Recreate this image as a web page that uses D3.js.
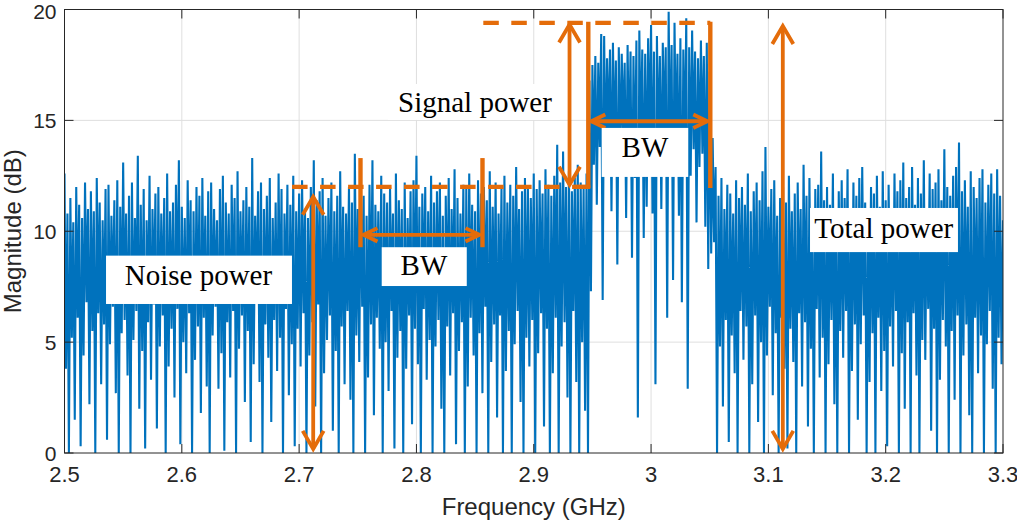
<!DOCTYPE html>
<html><head><meta charset="utf-8">
<script src="https://cdn.jsdelivr.net/npm/d3@7"></script>
<style>body{margin:0;background:#fff;}svg{display:block;}</style>
</head><body>
<svg id="chart" width="1017" height="520"></svg>
<script>
// ---------- data ----------
const xTicks = [2.5, 2.6, 2.7, 2.8, 2.9, 3.0, 3.1, 3.2, 3.3];
const xTickLabels = ["2.5", "2.6", "2.7", "2.8", "2.9", "3", "3.1", "3.2", "3.3"];
const yTicks = [0, 5, 10, 15, 20];
const yTickLabels = ["0", "5", "10", "15", "20"];
const xLabel = "Frequency (GHz)";
const yLabel = "Magnitude (dB)";

// spectrum sampled every 2.5 MHz from 2.5 GHz: per-bin peak and trough (dB)
const freqStart = 2.5, freqStep = 0.0025;
const magHigh = [
12.6,10.8,11.5,10.4,12.0,11.2,10.6,12.2,11.0,11.8,
10.9,12.4,11.3,10.5,11.9,12.1,10.7,11.4,12.3,11.1,
13.1,10.8,11.6,12.2,10.6,13.4,11.2,11.9,10.5,12.5,
11.0,11.7,12.0,10.8,11.5,12.6,10.9,11.3,12.1,13.2,
11.1,10.6,12.3,11.4,10.9,12.0,11.6,12.4,10.7,11.8,
12.2,11.0,10.5,11.9,12.5,11.3,10.8,12.1,11.5,12.7,
10.9,11.4,12.0,11.1,13.3,10.7,11.8,12.2,11.0,11.6,
12.4,10.6,11.3,12.6,11.9,10.8,12.1,11.2,12.5,10.9,
11.7,12.3,11.0,10.6,12.0,13.2,11.4,11.8,12.4,10.7,
11.5,12.2,10.9,11.6,12.7,11.1,10.8,12.0,11.3,13.5,
11.0,12.4,11.6,10.7,12.1,13.2,11.2,10.9,12.5,11.7,
11.3,12.0,10.8,12.6,11.4,11.0,12.2,10.6,11.8,12.3,
13.4,11.1,11.7,12.0,10.9,12.5,11.3,11.8,12.2,10.7,
11.6,12.4,11.0,12.8,11.5,10.8,12.1,11.9,12.6,11.2,
10.9,12.3,11.7,12.0,11.4,12.7,11.1,12.2,10.8,11.9,
12.5,11.3,12.1,11.6,12.9,11.0,11.8,12.4,12.0,11.5,
12.6,11.9,12.3,11.7,12.8,12.1,11.6,12.5,13.9,12.2,
13.6,12.0,12.7,11.8,12.4,13.0,12.2,11.9,12.6,
16.8,17.5,17.9,17.6,18.9,18.8,17.8,18.2,18.5,17.7,
18.3,18.0,17.6,18.4,18.1,17.9,18.6,19.05,18.2,18.0,
18.7,19.3,18.1,18.8,17.9,18.5,18.3,19.9,18.4,19.4,
18.0,18.7,18.2,19.6,18.3,19.05,18.1,17.8,18.6,17.9,
18.5,17.2,
14.2,12.9,11.6,12.4,11.0,12.1,11.7,10.8,12.3,11.5,
12.0,11.2,12.6,10.9,11.8,12.2,11.4,12.7,13.8,11.1,
11.9,12.3,10.7,11.5,12.0,11.3,12.5,10.9,11.7,12.2,
11.0,13.0,11.6,12.4,10.8,11.9,12.1,13.6,11.4,12.0,
11.2,12.6,10.9,11.8,12.3,11.5,12.8,11.0,12.2,11.6,
12.4,12.9,11.3,10.8,12.0,11.7,12.5,11.1,12.7,11.4,
12.1,10.9,12.6,11.8,12.3,13.1,11.5,12.0,12.9,11.2,
12.4,11.7,13.2,11.0,12.6,11.9,12.2,12.8,11.4,13.7,
12.0,11.6,12.5,12.9,14.0,11.8,12.3,11.1,12.7,12.0,
11.5,12.4,12.8,11.3,12.1,12.6,11.7,12.8,11.6,10.5
];
const magLow = [
3.8,0.0,5.2,1.5,6.1,0.3,4.4,6.8,2.2,5.5,
0.0,6.3,3.1,5.8,0.6,4.9,6.6,2.7,0.0,5.4,
6.0,3.5,0.0,5.1,6.4,2.0,4.6,0.2,5.9,3.3,
6.7,1.1,4.8,6.2,0.0,3.9,5.6,2.5,6.5,0.4,
5.0,3.6,6.3,0.0,4.2,5.7,1.8,6.1,3.0,0.0,
5.3,6.6,2.9,4.5,0.1,5.9,3.4,6.4,0.0,4.7,
6.2,2.3,5.5,0.5,4.0,6.8,3.2,0.0,5.8,4.3,
1.4,6.0,3.7,5.2,0.0,6.5,2.6,4.9,0.3,5.6,
3.9,6.3,0.0,4.4,5.9,2.1,6.7,0.0,3.6,5.1,
6.2,1.0,4.6,0.0,5.7,3.1,6.4,2.4,0.0,5.3,
4.1,6.6,0.0,3.4,5.8,1.7,6.1,4.7,0.0,5.0,
2.8,6.4,0.2,4.3,5.5,0.0,3.8,6.2,1.3,5.6,
4.0,0.0,6.5,3.3,5.1,0.0,4.8,6.0,2.0,0.0,
5.7,3.5,6.3,0.4,4.6,5.9,0.0,3.0,6.1,4.4,
0.0,5.4,2.7,6.6,0.0,4.1,5.8,1.6,6.2,0.0,
3.7,5.5,0.0,4.9,6.4,2.3,0.0,5.2,3.9,6.0,
0.0,4.5,6.3,1.2,5.6,0.0,3.6,6.1,0.0,4.8,
5.9,2.5,0.0,6.4,3.2,0.0,5.0,1.9,0.0,
7.3,13.0,11.2,13.8,6.9,12.6,14.0,10.9,13.4,8.5,
12.8,14.2,10.6,13.1,8.8,12.4,1.6,13.6,9.7,11.1,
13.9,10.8,3.1,13.2,11.0,14.1,6.1,12.7,7.8,13.3,
10.7,6.8,13.0,2.9,12.5,13.7,10.4,12.9,13.5,10.2,
8.3,9.0,
9.5,0.0,4.8,2.1,6.0,0.5,5.3,3.6,0.0,6.4,
4.2,5.7,0.0,3.1,6.2,1.4,5.0,0.0,4.4,6.6,
2.6,5.4,0.0,6.1,3.8,0.2,5.6,4.1,0.0,6.3,
3.0,5.9,1.2,4.7,0.0,6.5,3.4,5.2,0.0,4.0,
6.0,2.2,0.0,5.5,4.3,6.4,0.0,3.7,5.8,1.5,
4.9,6.2,0.0,3.2,5.4,0.0,6.1,2.8,4.6,0.3,
5.7,3.9,6.4,0.0,4.5,2.0,5.9,0.0,6.3,3.5,
0.0,5.1,4.2,6.5,1.0,5.6,0.0,3.3,6.0,4.8,
0.0,5.5,2.4,6.2,0.0,4.4,5.8,1.7,0.0,6.1,
3.6,5.3,0.0,4.9,6.4,2.9,0.0,5.2,4.0,3.4
];

// annotation values (GHz, dB)
const noiseLevel = 12.0, signalTop = 19.4;
const bwNoise = [2.7523, 2.8563];
const bwSignal = [2.9465, 3.0505];
const labelTexts = ["Noise power", "BW", "Signal power", "BW", "Total power"];

// ---------- layout ----------
const W = 1017, H = 520;
const plotL = 64.5, plotR = 1003, plotT = 9.5, plotB = 453;
const blue = "#0072BD", orange = "#E46C0A", axisCol = "#262626", gridCol = "#dfdfdf";

const svg = d3.select("#chart");
const x = d3.scaleLinear().domain([2.5, 3.3]).range([plotL, plotR]);
const y = d3.scaleLinear().domain([0, 20]).range([plotB, plotT]);

svg.append("rect").attr("width", W).attr("height", H).attr("fill", "#fff");

// grid
const grid = svg.append("g");
grid.selectAll(".gx").data(xTicks.slice(1, -1)).join("line")
  .attr("x1", d => x(d)).attr("x2", d => x(d)).attr("y1", plotT).attr("y2", plotB)
  .attr("stroke", gridCol).attr("stroke-width", 1);
grid.selectAll(".gy").data(yTicks.slice(1, -1)).join("line")
  .attr("x1", plotL).attr("x2", plotR).attr("y1", d => y(d)).attr("y2", d => y(d))
  .attr("stroke", gridCol).attr("stroke-width", 1);

// data
svg.append("clipPath").attr("id", "clip").append("rect")
  .attr("x", plotL).attr("y", plotT).attr("width", plotR - plotL).attr("height", plotB - plotT);
const n = Math.min(magHigh.length, magLow.length);
const pts = [];
for (let i = 0; i < n; i++) {
  const f = freqStart + i * freqStep;
  pts.push([f, magHigh[i]]);
  pts.push([f + freqStep / 2, magLow[i]]);
}
const line = d3.line().x(d => x(d[0])).y(d => y(d[1]));
svg.append("path").attr("clip-path", "url(#clip)")
  .attr("d", line(pts)).attr("fill", "none").attr("stroke", blue)
  .attr("stroke-width", 2.1).attr("stroke-linejoin", "bevel");

// axes box and ticks
const ax = svg.append("g").attr("stroke", axisCol).attr("stroke-width", 1).attr("fill", "none");
ax.append("rect").attr("x", plotL).attr("y", plotT).attr("width", plotR - plotL).attr("height", plotB - plotT);
const tl = 9;
xTicks.forEach(t => {
  ax.append("line").attr("x1", x(t)).attr("x2", x(t)).attr("y1", plotB).attr("y2", plotB - tl);
  ax.append("line").attr("x1", x(t)).attr("x2", x(t)).attr("y1", plotT).attr("y2", plotT + tl);
});
yTicks.forEach(t => {
  ax.append("line").attr("x1", plotL).attr("x2", plotL + tl).attr("y1", y(t)).attr("y2", y(t));
  ax.append("line").attr("x1", plotR).attr("x2", plotR - tl).attr("y1", y(t)).attr("y2", y(t));
});

const tickFont = "'Liberation Sans', Arial, Helvetica, sans-serif";
svg.append("g").selectAll("text").data(xTicks).join("text")
  .attr("x", d => x(d)).attr("y", 482).attr("text-anchor", "middle")
  .attr("font-family", tickFont).attr("font-size", 22).attr("fill", axisCol)
  .text((d, i) => xTickLabels[i]);
svg.append("g").selectAll("text").data(yTicks).join("text")
  .attr("x", 56.5).attr("y", d => Math.max(y(d), 11)).attr("dy", "0.36em").attr("text-anchor", "end")
  .attr("font-family", tickFont).attr("font-size", 21).attr("fill", axisCol)
  .text((d, i) => yTickLabels[i]);
svg.append("text").attr("x", (plotL + plotR) / 2).attr("y", 515).attr("text-anchor", "middle")
  .attr("font-family", tickFont).attr("font-size", 24).attr("fill", axisCol).text(xLabel);
svg.append("text").attr("transform", `translate(21,${(plotT + plotB) / 2}) rotate(-90)`)
  .attr("text-anchor", "middle")
  .attr("font-family", tickFont).attr("font-size", 24).attr("fill", axisCol).text(yLabel);

// ---------- annotations ----------
const ann = svg.append("g").attr("stroke", orange).attr("fill", "none").attr("stroke-linecap", "butt");

// label boxes (white) with serif text
const serif = "'Liberation Serif', 'Times New Roman', Times, serif";
const boxes = [
  {f0: 2.5354, f1: 2.6939, v0: 6.72, v1: 8.90, tf: 2.6142, tv: 7.58},
  {f0: 2.7704, f1: 2.8429, v0: 7.53, v1: 9.28, tf: 2.8064, tv: 8.03},
  {f0: 2.7758, f1: 2.9224, v0: 15.02, v1: 16.64, tf: 2.8499, tv: 15.38},
  {f0: 2.9579, f1: 3.0317, v0: 12.45, v1: 14.66, tf: 2.9948, tv: 13.35},
  {f0: 3.1355, f1: 3.2616, v0: 9.06, v1: 11.05, tf: 3.1984, tv: 9.71}
];
const lab = svg.append("g");
boxes.forEach((b, i) => {
  lab.append("rect").attr("x", x(b.f0)).attr("y", y(b.v1))
    .attr("width", x(b.f1) - x(b.f0)).attr("height", y(b.v0) - y(b.v1)).attr("fill", "#fff");
  lab.append("text").attr("x", x(b.tf)).attr("y", y(b.tv)).attr("text-anchor", "middle")
    .attr("font-family", serif).attr("font-size", 29).attr("fill", "#000").text(labelTexts[i]);
});

// dashed level lines
const dashW = 4.2;
ann.append("line").attr("x1", x(2.694)).attr("x2", x(bwSignal[0])).attr("y1", y(noiseLevel)).attr("y2", y(noiseLevel))
  .attr("stroke-width", dashW).attr("stroke-dasharray", "15.5,12.5");
ann.append("line").attr("x1", x(2.857)).attr("x2", x(bwSignal[1])).attr("y1", y(signalTop)).attr("y2", y(signalTop))
  .attr("stroke-width", dashW).attr("stroke-dasharray", "15.5,12.5");

// solid vertical bars
const bars = [
  {f: bwNoise[0], v0: 9.28, v1: 13.3}, {f: bwNoise[1], v0: 9.28, v1: 13.3},
  {f: bwSignal[0], v0: noiseLevel - 0.05, v1: signalTop + 0.05}, {f: bwSignal[1], v0: noiseLevel - 0.05, v1: signalTop + 0.05}
];
bars.forEach(b => ann.append("line").attr("x1", x(b.f)).attr("x2", x(b.f))
  .attr("y1", y(b.v0)).attr("y2", y(b.v1)).attr("stroke-width", 4.4));
// little joint at the bottom of the signal's left bar
ann.append("line").attr("x1", x(2.9335)).attr("x2", x(bwSignal[0]) + 2).attr("y1", y(noiseLevel)).attr("y2", y(noiseLevel))
  .attr("stroke-width", dashW);

// vertical double arrows
const vArrows = [
  {f: 2.712, v0: 0.14, v1: 11.6},
  {f: 2.9305, v0: 12.05, v1: 19.37},
  {f: 3.1123, v0: 0.14, v1: 19.3}
];
const aw = 3.8;
vArrows.forEach(a => {
  const xx = x(a.f), yb = y(a.v0), yt = y(a.v1);
  ann.append("line").attr("x1", xx).attr("x2", xx).attr("y1", yb - 1).attr("y2", yt + 1).attr("stroke-width", aw);
  ann.append("polyline").attr("points", `${xx - 10.5},${yt + 19} ${xx},${yt + 1} ${xx + 10.5},${yt + 19}`)
    .attr("stroke-width", aw).attr("stroke-linejoin", "miter");
  ann.append("polyline").attr("points", `${xx - 10.5},${yb - 19} ${xx},${yb - 1} ${xx + 10.5},${yb - 19}`)
    .attr("stroke-width", aw).attr("stroke-linejoin", "miter");
});

// horizontal double arrows (bandwidth)
const hArrows = [
  {v: 9.84, f0: bwNoise[0], f1: bwNoise[1]},
  {v: 14.96, f0: bwSignal[0], f1: bwSignal[1]}
];
hArrows.forEach(a => {
  const yy = y(a.v), xl = x(a.f0) + 3, xr = x(a.f1) - 3;
  ann.append("line").attr("x1", xl).attr("x2", xr).attr("y1", yy).attr("y2", yy).attr("stroke-width", aw);
  ann.append("polyline").attr("points", `${xl + 14},${yy - 6.7} ${xl},${yy} ${xl + 14},${yy + 6.7}`)
    .attr("stroke-width", aw).attr("stroke-linejoin", "miter");
  ann.append("polyline").attr("points", `${xr - 14},${yy - 6.7} ${xr},${yy} ${xr - 14},${yy + 6.7}`)
    .attr("stroke-width", aw).attr("stroke-linejoin", "miter");
});
</script>
</body></html>
